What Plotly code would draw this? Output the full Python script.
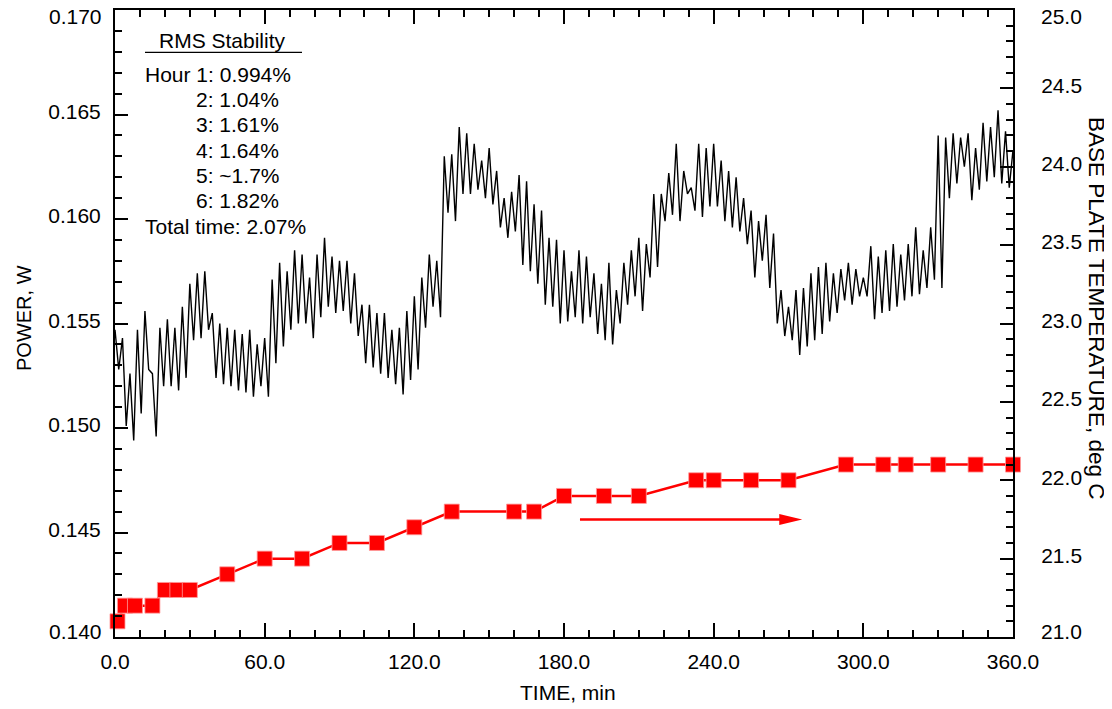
import plotly.graph_objects as go

# ---------------- data ----------------
# Power trace: local upper / lower excursions read every 3 minutes
time_min = list(range(0, 361, 3))
power_hi = [0.1547, 0.1543, 0.1526, 0.1547, 0.1556, 0.1526, 0.1548, 0.1552, 0.1548, 0.1558,
            0.1569, 0.1574, 0.1575, 0.1555, 0.1550, 0.1548, 0.1547, 0.1545, 0.1547, 0.1540,
            0.1543, 0.1571, 0.1579, 0.1575, 0.1585, 0.1583, 0.1572, 0.1583, 0.1591, 0.1582,
            0.1580, 0.1580, 0.1574, 0.1559, 0.1559, 0.1555, 0.1555, 0.1547, 0.1548, 0.1556,
            0.1563, 0.1572, 0.1583, 0.1580, 0.1630, 0.1631, 0.1644, 0.1641, 0.1636, 0.1628,
            0.1634, 0.1623, 0.1610, 0.1613, 0.1621, 0.1618, 0.1607, 0.1604, 0.1591, 0.1590,
            0.1585, 0.1575, 0.1585, 0.1582, 0.1574, 0.1569, 0.1579, 0.1566, 0.1579, 0.1585,
            0.1591, 0.1588, 0.1612, 0.1612, 0.1622, 0.1636, 0.1623, 0.1615, 0.1636, 0.1634,
            0.1636, 0.1628, 0.1623, 0.1620, 0.1610, 0.1604, 0.1599, 0.1602, 0.1593, 0.1566,
            0.1558, 0.1566, 0.1567, 0.1574, 0.1577, 0.1579, 0.1574, 0.1576, 0.1579, 0.1576,
            0.1572, 0.1587, 0.1582, 0.1585, 0.1588, 0.1583, 0.1588, 0.1596, 0.1585, 0.1596,
            0.1640, 0.1639, 0.1641, 0.1639, 0.1641, 0.1634, 0.1646, 0.1644, 0.1652, 0.1642,
            0.1633]
power_lo = [0.1528, 0.1501, 0.1494, 0.1507, 0.1528, 0.1496, 0.1520, 0.1520, 0.1518, 0.1524,
            0.1542, 0.1543, 0.1547, 0.1524, 0.1521, 0.1520, 0.1518, 0.1517, 0.1515, 0.1520,
            0.1515, 0.1531, 0.1539, 0.1547, 0.1550, 0.1550, 0.1543, 0.1553, 0.1558, 0.1555,
            0.1556, 0.1550, 0.1544, 0.1531, 0.1529, 0.1526, 0.1524, 0.1521, 0.1516, 0.1523,
            0.1528, 0.1548, 0.1558, 0.1553, 0.1603, 0.1599, 0.1612, 0.1612, 0.1614, 0.1610,
            0.1607, 0.1596, 0.1591, 0.1594, 0.1578, 0.1575, 0.1569, 0.1559, 0.1558, 0.1550,
            0.1551, 0.1553, 0.1550, 0.1553, 0.1545, 0.1542, 0.1540, 0.1550, 0.1559, 0.1563,
            0.1556, 0.1572, 0.1577, 0.1599, 0.1602, 0.1599, 0.1612, 0.1604, 0.1601, 0.1606,
            0.1606, 0.1599, 0.1596, 0.1594, 0.1588, 0.1572, 0.1580, 0.1567, 0.1550, 0.1544,
            0.1542, 0.1535, 0.1539, 0.1542, 0.1545, 0.1551, 0.1555, 0.1561, 0.1559, 0.1563,
            0.1563, 0.1552, 0.1555, 0.1556, 0.1558, 0.1561, 0.1563, 0.1564, 0.1567, 0.1571,
            0.1567, 0.1610, 0.1617, 0.1625, 0.1609, 0.1614, 0.1618, 0.1620, 0.1617, 0.1615,
            0.1610]

# Base plate temperature samples
temp_time = [1, 4, 8, 15, 20, 25, 30, 45, 60, 75, 90, 105, 120, 135, 160, 168, 180, 196,
             210, 233, 240, 255, 270, 293, 308, 317, 330, 345, 360]
temp_c = [21.1, 21.2, 21.2, 21.2, 21.3, 21.3, 21.3, 21.4, 21.5, 21.5, 21.6, 21.6, 21.7, 21.8,
          21.8, 21.8, 21.9, 21.9, 21.9, 22.0, 22.0, 22.0, 22.0, 22.1, 22.1, 22.1, 22.1, 22.1, 22.1]

x_ticks = [0, 60, 120, 180, 240, 300, 360]
power_ticks = [0.140, 0.145, 0.150, 0.155, 0.160, 0.165, 0.170]
temp_ticks = [21.0, 21.5, 22.0, 22.5, 23.0, 23.5, 24.0, 24.5, 25.0]
rms_title = "RMS Stability"
rms_first = "Hour 1: 0.994%"
rms_hours = ["2: 1.04%", "3: 1.61%", "4: 1.64%", "5: ~1.7%", "6: 1.82%"]
rms_total = "Total time: 2.07%"

# arrow (annotation) pointing to the right-hand axis
arrow_tail_t, arrow_tip_t, arrow_level = 185.8, 275.5, 21.75

# ---------------- figure ----------------
FONT = "Liberation Sans, Arial, Helvetica, sans-serif"
PAGE_OFF = 8                      # default body margin of the html page
W, H = 1104, 701
L, R, T, B = 107, 99, 2, 72
PW, PH = W - L - R, H - T - B


def px(x):   # page pixel -> paper
    return (x - PAGE_OFF - L) / PW


def py(y):   # page pixel -> paper
    return (H - B - (y - PAGE_OFF)) / PH


trace_x, trace_y = [], []
for t, hi, lo in zip(time_min, power_hi, power_lo):
    trace_x += [t, t + 1.5]
    trace_y += [hi, lo]

fig = go.Figure()
fig.add_trace(go.Scatter(x=trace_x, y=trace_y, mode="lines",
                         line=dict(color="black", width=1.4), yaxis="y",
                         hoverinfo="skip"))
fig.add_trace(go.Scatter(x=temp_time, y=temp_c, mode="lines+markers", yaxis="y2",
                         line=dict(color="#ff0000", width=2.5),
                         marker=dict(symbol="square", size=15, color="#ff0000",
                                     line=dict(color="#ff9a9a", width=0.8)),
                         cliponaxis=False))

axis_common = dict(showline=True, linewidth=2, linecolor="black", ticks="inside",
                   tickcolor="black", tickwidth=1.5, showgrid=False, zeroline=False,
                   automargin=False, ticklabeloverflow="allow",
                   tickfont=dict(family=FONT, size=21, color="black"))

# end labels of the vertical axes are pulled inside the frame (as in the original)
power_text = ["" if v in (power_ticks[0], power_ticks[-1]) else f"{v:.3f}" for v in power_ticks]
temp_text = ["" if v in (temp_ticks[0], temp_ticks[-1]) else f"{v:.1f}" for v in temp_ticks]

fig.update_layout(
    width=W, height=H, margin=dict(l=L, r=R, t=T, b=B),
    paper_bgcolor="white", plot_bgcolor="white", showlegend=False,
    xaxis=dict(range=[x_ticks[0], x_ticks[-1]], tickvals=x_ticks, tickformat=".1f",
               ticklen=14, mirror="ticks", ticklabelstandoff=5,
               minor=dict(dtick=10, ticks="inside", ticklen=7, tickwidth=1.5,
                          tickcolor="black"),
               **axis_common),
    yaxis=dict(range=[power_ticks[0], power_ticks[-1]], tickvals=power_ticks,
               ticktext=power_text, ticklen=13, ticklabelstandoff=8, ticklabelshift=-3,
               minor=dict(dtick=0.001, ticks="inside", ticklen=7, tickwidth=1.5,
                          tickcolor="black"),
               **axis_common),
    yaxis2=dict(range=[temp_ticks[0], temp_ticks[-1]], tickvals=temp_ticks,
                ticktext=temp_text, ticklen=13,
                overlaying="y", side="right", ticklabelstandoff=22, ticklabelshift=-3,
                minor=dict(dtick=0.1, ticks="inside", ticklen=7, tickwidth=1.5,
                           tickcolor="black"),
                **axis_common),
)

tfont = dict(family=FONT, size=21, color="black")
bfont = dict(family=FONT, size=21, color="black")
ann = [
    dict(text="TIME, min", x=px(568), y=py(692), xref="paper", yref="paper",
         showarrow=False, font=tfont, xanchor="center", yanchor="middle"),
    dict(text="POWER, W", x=px(24), y=py(318), xref="paper", yref="paper",
         showarrow=False, font=dict(family=FONT, size=20, color="black"),
         textangle=-90, xanchor="center", yanchor="middle"),
    dict(text="BASE PLATE TEMPERATURE, deg C", x=px(1097), y=py(308), xref="paper",
         yref="paper", showarrow=False, font=dict(family=FONT, size=22.5, color="black"),
         textangle=90, xanchor="center", yanchor="middle"),
    dict(text=rms_title, x=px(222), y=py(41), xref="paper", yref="paper",
         showarrow=False, font=bfont, xanchor="center", yanchor="middle"),
    dict(text=rms_first, x=px(143), y=py(74), xref="paper", yref="paper",
         showarrow=False, font=bfont, xanchor="left", yanchor="middle"),
    dict(text=rms_total, x=px(143), y=py(226), xref="paper", yref="paper",
         showarrow=False, font=bfont, xanchor="left", yanchor="middle"),
    dict(text="", x=arrow_tip_t - 4, y=arrow_level, xref="x", yref="y2",
         ax=arrow_tail_t, ay=arrow_level, axref="x", ayref="y2",
         showarrow=True, arrowhead=0, arrowwidth=2.5, arrowcolor="#ff0000"),
    # end tick labels of the vertical axes
    dict(text=f"{power_ticks[-1]:.3f}", x=px(104), y=py(17), xref="paper", yref="paper",
         showarrow=False, font=tfont, xanchor="right", yanchor="middle"),
    dict(text=f"{power_ticks[0]:.3f}", x=px(104), y=py(631), xref="paper", yref="paper",
         showarrow=False, font=tfont, xanchor="right", yanchor="middle"),
    dict(text=f"{temp_ticks[-1]:.1f}", x=px(1039), y=py(17), xref="paper", yref="paper",
         showarrow=False, font=tfont, xanchor="left", yanchor="middle"),
    dict(text=f"{temp_ticks[0]:.1f}", x=px(1039), y=py(631), xref="paper", yref="paper",
         showarrow=False, font=tfont, xanchor="left", yanchor="middle"),
]
for i, s in enumerate(rms_hours):
    ann.append(dict(text=s, x=px(281), y=py(99.5 + i * 25.3), xref="paper", yref="paper",
                    showarrow=False, font=bfont, xanchor="right", yanchor="middle"))
fig.update_layout(annotations=ann)

fig.add_shape(type="line", xref="paper", yref="paper", x0=px(145), x1=px(302),
              y0=py(52.3), y1=py(52.3), line=dict(color="black", width=1.2))
fig.add_shape(type="path", xref="x", yref="y2", xsizemode="pixel", ysizemode="pixel",
              xanchor=arrow_tip_t, yanchor=arrow_level,
              path="M -23,-5.5 L 0,0 L -23,5.5 Z", fillcolor="#ff0000",
              line=dict(width=0))

fig.write_html("out.html")
